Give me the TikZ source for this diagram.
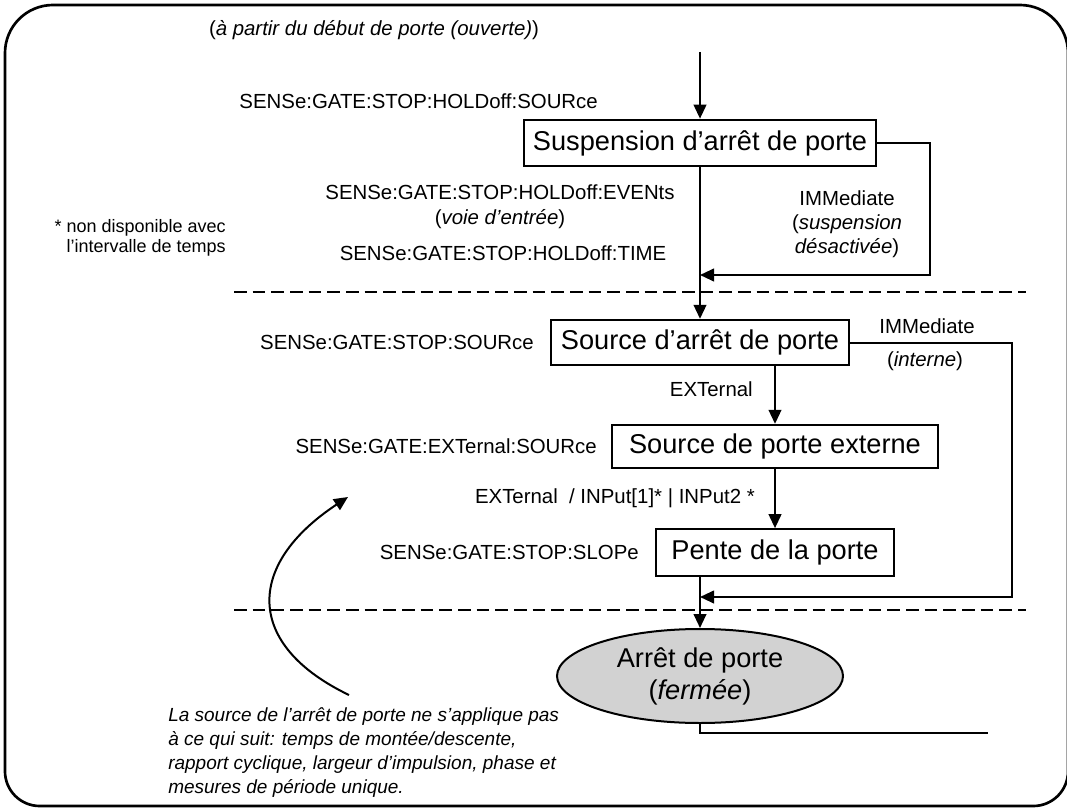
\documentclass[tikz,border=0pt]{standalone}
\usepackage{fontspec}
\setmainfont{Liberation Sans}
\usetikzlibrary{arrows.meta,positioning,shapes.geometric}

\begin{document}
\begin{tikzpicture}[x=0.75pt,y=-0.75pt,
  boite/.style={draw,line width=1.5pt,inner sep=0pt,font=\fontsize{20.4}{24}\selectfont},
  cmd/.style={inner sep=0pt,align=center,font=\fontsize{15.3}{18.5}\selectfont},
  fleche/.style={-{Triangle[length=10.5pt,width=9.5pt]},line width=1.5pt},
  lien/.style={line width=1.5pt},
  separ/.style={line width=2pt,dash pattern=on 9.5pt off 4.5pt}]
\useasboundingbox (0,0) rectangle (1067,809);
\draw[line width=2pt] (5,400) [rounded corners=36pt] -- (5,5) -- (1068,5) -- (1068,400) [rounded corners=26pt] -- (1068,806) -- (5,806) -- (5,400);

\node[cmd] (debut) at (374,30) {(\textit{à partir du début de porte (ouverte)})};
\coordinate (entree) at (700,52);
\node[boite,minimum width=264pt,minimum height=35pt] (susp) at (700,143) {Suspension d’arrêt de porte};
\node[cmd,anchor=east] (hsrc) at (598,101) {SENSe:GATE:STOP:HOLDoff:SOURce};
\node[cmd] (hevt) at (500,207) {SENSe:GATE:STOP:HOLDoff:EVENts\\(\textit{voie d’entrée})};
\node[cmd] (htime) at (503,253) {SENSe:GATE:STOP:HOLDoff:TIME};
\node[cmd,font=\fontsize{15.3}{18}\selectfont] (himm) at (847,224) {IMMediate\\(\textit{suspension}\\\textit{désactivée})};
\node[cmd,anchor=east,align=right,font=\fontsize{13.5}{15}\selectfont] (dispo) at (226,238) {* non disponible avec\\l’intervalle de temps};
\coordinate (j1) at (700,275);
\coordinate (r1) at (930,275);

\node[boite,minimum width=223.5pt,minimum height=34pt] (srcs) at (700,342.5) {Source d’arrêt de porte};
\node[cmd,left=12pt of srcs] (ssrc) {SENSe:GATE:STOP:SOURce};
\node[cmd] (imm) at (927,326) {IMMediate};
\node[cmd] (intr) at (925,361) {(\textit{interne})};
\coordinate (j2) at (700,597);
\coordinate (r2) at (1012,597);

\node[boite,minimum width=244.5pt,minimum height=32.5pt] (ext) at (775,446.5) {Source de porte externe};
\node[cmd,left=10.5pt of ext] (esrc) {SENSe:GATE:EXTernal:SOURce};
\node[cmd,anchor=east] (extl) at (753,389) {EXTernal};

\node[boite,minimum width=178.5pt,minimum height=35pt] (pente) at (775,552.5) {Pente de la porte};
\node[cmd,left=12pt of pente] (slope) {SENSe:GATE:STOP:SLOPe};
\node[cmd,anchor=east] (inp) at (755,498) {EXTernal\ \ / INPut[1]* | INPut2 *};

\node[ellipse,draw,line width=1.5pt,fill=gray!35,inner sep=0pt,minimum width=214.5pt,minimum height=70.5pt,font=\fontsize{20.4}{24}\selectfont,align=center] (fin) at (700,676) {Arrêt de porte\\(\textit{fermée})};
\coordinate (sortie) at (988,733);

\node[anchor=west,align=left,inner sep=0pt,font=\fontsize{14.25}{18}\selectfont\itshape] (remarque) at (168,753) {La source de l’arrêt de porte ne s’applique pas\\à ce qui suit: temps de montée/descente,\\rapport cyclique, largeur d’impulsion, phase et\\mesures de période unique.};
\coordinate (cbas) at (349,695);
\coordinate (chaut) at (348,497);

\draw[fleche] (entree) -- (susp);
\draw[fleche] (susp.east) -| (r1) -- (j1);
\draw[fleche] (susp) -- (srcs);
\draw[fleche] (srcs.east) -| (r2) -- (j2);
\draw[fleche] (ext.north |- srcs.south) -- (ext);
\draw[fleche] (ext) -- (pente);
\draw[fleche] (pente.south -| fin.north) -- (fin);
\draw[lien] (fin.south) |- (sortie);
\draw[fleche] (cbas) .. controls (245,645) and (245,565) .. (chaut);
\draw[separ] (234,292) -- (1026,292);
\draw[separ] (234,610) -- (1026,610);
\end{tikzpicture}
\end{document}
